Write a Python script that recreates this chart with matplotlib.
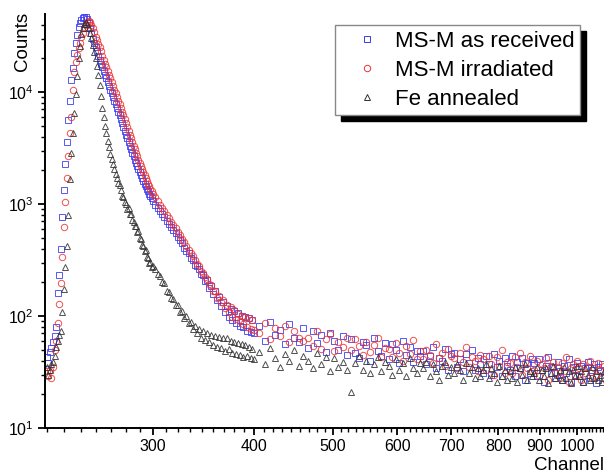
import numpy as np
import matplotlib.pyplot as plt
from matplotlib.ticker import FixedLocator, NullFormatter, LogLocator, LogFormatterSciNotation

plt.rcParams['font.family'] = ['Liberation Sans', 'DejaVu Sans']
plt.rcParams['mathtext.default'] = 'regular'

# channel grid: every channel through the peak, then thinner sampling of the tail
ch_peak = np.arange(222, 301)
ch_mid = np.arange(302, 401, 2)
ch_tail = np.arange(406, 1079, 6)

# MS-M as received (blue squares)
blue_peak = [
    43, 38, 48, 52, 59, 66, 80, 160, 232, 400,
    766, 1330, 2277, 3580, 5600, 8300, 12800, 16400, 22300, 27400,
    32300, 38000, 41500, 44000, 45800, 46800, 46700, 45200, 41700, 37600,
    33500, 29900, 27400, 25100, 23000, 21100, 19300, 17900, 16600, 15400,
    14300, 13200, 12200, 11400, 10500, 9750, 9040, 8370, 7760, 7190,
    6670, 6170, 5700, 5270, 4880, 4510, 4170, 3850, 3570, 3310,
    3080, 2860, 2660, 2480, 2320, 2180, 2040, 1920, 1800, 1700,
    1600, 1520, 1440, 1360, 1300, 1230, 1175, 1120, 1070,
]
blue_mid = [
    977, 916, 861, 809, 759, 711, 667, 625, 586, 547,
    510, 475, 450, 405, 384, 362, 328, 315, 288, 280,
    262, 236, 234, 206, 210, 178, 186, 156, 166, 138,
    148, 122, 133, 108, 123, 98, 116, 92, 110, 86,
    106, 82, 100, 79, 97, 74, 95, 72, 92, 70,
]
blue_tail = [
    82, 60, 88, 68, 75, 56, 84, 64, 58, 78,
    52, 74, 57, 68, 48, 71, 60, 50, 66, 45,
    62, 47, 42, 58, 55, 40, 64, 49, 44, 57,
    41, 56, 50, 38, 60, 45, 53, 39, 49, 44,
    49, 37, 44, 53, 34, 42, 40, 51, 33, 46,
    47, 35, 41, 32, 46, 38, 50, 33, 42, 37,
    31, 44, 37, 30, 46, 35, 40, 29, 42, 36,
    33, 44, 29, 39, 34, 42, 27, 38, 31, 41,
    38, 29, 41, 33, 26, 36, 43, 31, 35, 28,
    39, 32, 27, 36, 31, 41, 26, 35, 30, 38,
    29, 36, 26, 34, 39, 28, 33, 37, 25, 35,
    32, 37, 28,
]

# MS-M irradiated (red circles)
red_peak = [
    32, 29, 33, 28, 35, 50, 60, 87, 128, 197,
    336, 620, 1040, 1700, 2660, 4300, 5950, 10400, 15000, 18500,
    21500, 24500, 27400, 31000, 33500, 37000, 39500, 42000, 43000, 42500,
    40000, 37000, 34000, 31000, 29000, 27000, 25000, 23000, 21100, 19300,
    17900, 16600, 15400, 14300, 13200, 12200, 11400, 10500, 9750, 9040,
    8370, 7760, 7190, 6670, 6170, 5700, 5270, 4880, 4510, 4170,
    3850, 3570, 3310, 3080, 2860, 2660, 2480, 2320, 2180, 2040,
    1920, 1800, 1700, 1600, 1520, 1440, 1360, 1300, 1230,
]
red_mid = [
    1150, 1060, 985, 920, 860, 800, 745, 695, 650, 605,
    565, 525, 488, 455, 420, 392, 362, 340, 318, 294,
    280, 254, 244, 222, 216, 192, 190, 168, 168, 146,
    152, 132, 140, 118, 126, 108, 120, 98, 112, 94,
    104, 90, 101, 85, 98, 80, 96, 77, 93, 75,
]
red_tail = [
    70, 86, 62, 78, 66, 82, 58, 74, 64, 60,
    63, 54, 73, 51, 62, 69, 49, 58, 53, 64,
    50, 62, 54, 45, 59, 48, 55, 64, 43, 52,
    51, 43, 57, 47, 40, 54, 46, 61, 41, 49,
    41, 50, 45, 38, 56, 42, 47, 36, 51, 44,
    42, 34, 47, 39, 53, 35, 43, 40, 32, 45,
    41, 33, 44, 37, 30, 43, 36, 50, 31, 39,
    38, 31, 43, 35, 47, 30, 39, 34, 44, 32,
    33, 40, 29, 37, 34, 42, 27, 36, 39, 31,
    35, 28, 38, 32, 43, 26, 34, 37, 30, 40,
    34, 27, 37, 31, 35, 40, 28, 34, 29, 38,
    33, 28, 36,
]

# Fe annealed (black triangles)
black_peak = [
    35, 30, 33, 37, 39, 44, 53, 60, 68, 73,
    108, 174, 274, 420, 800, 1670, 2840, 4300, 6500, 9500,
    14000, 20000, 26000, 33000, 37500, 40500, 42000, 40700, 37600, 33900,
    30200, 26300, 22900, 20000, 17200, 14100, 11500, 9120, 7240, 6030,
    5010, 4270, 3630, 3200, 2820, 2540, 2290, 2070, 1860, 1700,
    1550, 1480, 1320, 1190, 1150, 1040, 1000, 900, 920, 820,
    810, 720, 690, 630, 640, 560, 575, 500, 490, 430,
    425, 380, 385, 335, 330, 300, 305, 275, 280,
]
black_mid = [
    262, 236, 228, 200, 198, 168, 165, 144, 143, 126,
    125, 108, 111, 96, 99, 86, 89, 76, 82, 71,
    77, 64, 74, 61, 71, 58, 68, 55, 66, 53,
    65, 52, 63, 49, 64, 51, 60, 47, 59, 46,
    57, 45, 56, 43, 55, 44, 53, 42, 51, 41,
]
black_tail = [
    48, 37, 52, 42, 35, 46, 40, 50, 36, 44,
    40, 34, 47, 37, 43, 32, 42, 35, 39, 33,
    21, 38, 44, 33, 40, 31, 37, 43, 32, 39,
    36, 30, 41, 33, 38, 29, 42, 34, 31, 38,
    34, 39, 29, 37, 32, 27, 36, 39, 30, 35,
    31, 37, 33, 27, 38, 31, 35, 28, 34, 29,
    33, 37, 28, 34, 31, 26, 36, 29, 33, 27,
    32, 28, 35, 26, 34, 30, 37, 27, 32, 29,
    31, 35, 27, 33, 29, 34, 25, 31, 36, 28,
    30, 33, 27, 35, 28, 32, 25, 33, 29, 36,
    29, 32, 26, 34, 30, 27, 35, 28, 32, 27,
    30, 26, 32,
]

x_major = [300, 400, 500, 600, 700, 800, 900, 1000]

channels = np.concatenate([ch_peak, ch_mid, ch_tail])
series = [
    ("MS-M as received", blue_peak + blue_mid + blue_tail, 's', 3.8, '#3b3bf0'),
    ("MS-M irradiated", red_peak + red_mid + red_tail, 'o', 4.6, '#f03030'),
    ("Fe annealed", black_peak + black_mid + black_tail, '^', 5.0, '#303030'),
]

W, H = 604, 475
fig = plt.figure(figsize=(W / 100, H / 100), dpi=100)
ax = fig.add_axes([45 / W, 47 / H, 566 / W, 414 / H])

for label, counts, marker, ms, color in series:
    counts = np.asarray(counts, dtype=float)
    ax.plot(channels, counts, linestyle='none', marker=marker, markersize=ms,
            markerfacecolor='none', markeredgecolor=color, markeredgewidth=0.7,
            alpha=0.85, label=label)

ax.set_xscale('log')
ax.set_yscale('log')
ax.set_xlim(220.9, 1101)
ax.set_ylim(10, 49700)

ax.xaxis.set_major_locator(FixedLocator(x_major))
ax.set_xticklabels([str(v) for v in x_major])
# Origin-style minor ticks: 8 per hundred channels
minor = [200 + k * 100 / 9 for k in range(0, 82) if k % 9 != 0]
ax.xaxis.set_minor_locator(FixedLocator(minor))
ax.xaxis.set_minor_formatter(NullFormatter())

ax.yaxis.set_major_locator(LogLocator(base=10, numticks=10))
ax.yaxis.set_major_formatter(LogFormatterSciNotation())
ax.yaxis.set_minor_locator(LogLocator(base=10, subs=np.arange(2, 10), numticks=20))
ax.yaxis.set_minor_formatter(NullFormatter())

for side in ['top', 'right']:
    ax.spines[side].set_visible(False)
for side in ['left', 'bottom']:
    ax.spines[side].set_linewidth(1.4)

ax.tick_params(which='major', direction='out', length=5, width=1.3, labelsize=11.5, pad=3)
ax.tick_params(which='minor', direction='out', length=3, width=1.0)

fig.text(22 / W, 1 - 41 / H, 'Counts', rotation=90, ha='center', va='center', fontsize=13.5)
fig.text(534 / W, 1 - 465 / H, 'Channel', ha='left', va='center', fontsize=13.5)

leg = ax.legend(loc='upper right', bbox_to_anchor=(580 / W, 1 - 25 / H),
                bbox_transform=fig.transFigure, borderaxespad=0,
                fontsize=16, frameon=True, fancybox=False,
                shadow={'ox': 4.3, 'oy': -4.3, 'color': 'black', 'alpha': 1},
                handlelength=2.4, handletextpad=0.05, borderpad=0.25,
                labelspacing=0.36)
leg.get_frame().set_edgecolor('#888888')
leg.get_frame().set_linewidth(1.0)
for h, (_, _, _, _, color) in zip(leg.legend_handles, series):
    h.set_alpha(1.0)
    h.set_markeredgecolor(color)

fig.savefig('out.png', dpi=100)
